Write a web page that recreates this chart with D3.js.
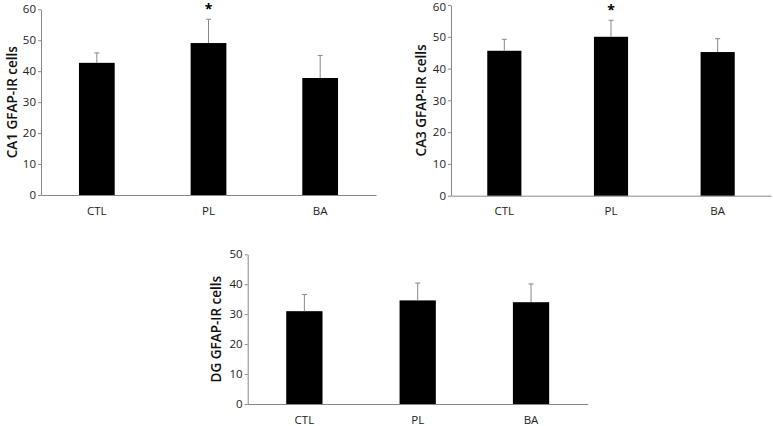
<!DOCTYPE html>
<html><head><meta charset="utf-8">
<script src="https://cdn.jsdelivr.net/npm/d3@7"></script>
<style>body{margin:0;background:#fff;} text{font-family:"Open Sans",sans-serif;}</style>
</head><body><svg id="c" width="773" height="426"></svg>
<script>
const categories = ["CTL","PL","BA"];
const ca1Values = [42.7, 49.1, 37.8];
const ca1Errors = [3.2, 7.7, 7.3];
const ca3Values = [45.6, 50.0, 45.2];
const ca3Errors = [3.6, 5.2, 4.2];
const dgValues = [31.0, 34.6, 34.0];
const dgErrors = [5.6, 5.8, 6.1];
const ca1Ticks = [0,10,20,30,40,50,60];
const ca3Ticks = [0,10,20,30,40,50,60];
const dgTicks = [0,10,20,30,40,50];
const ca1Sig = [false,true,false];
const ca3Sig = [false,true,false];
const dgSig = [false,false,false];

const svg = d3.select("#c");

function panel(opt){
  const g = svg.append("g");
  const x = d3.scaleBand().domain(categories).range([opt.x0,opt.x1]).paddingInner(0.68).paddingOuter(0.34);
  const y = d3.scaleLinear().domain([0,d3.max(opt.ticks)]).range([opt.yb,opt.yt]);
  const ya = g.append("g").attr("transform",`translate(${opt.x0},0)`)
    .call(d3.axisLeft(y).tickValues(opt.ticks).tickSize(3).tickSizeOuter(0));
  ya.select(".domain").attr("stroke","#888");
  ya.selectAll(".tick line").attr("stroke","#888");
  ya.selectAll(".tick text").attr("font-size",11.5).attr("fill","#222").attr("x",-5)
    .attr("dy",d=>(y(d)<8?"0.45em":"0.32em"));
  const xa = g.append("g").attr("transform",`translate(0,${opt.yb})`)
    .call(d3.axisBottom(x).tickSize(0).tickSizeOuter(0));
  xa.select(".domain").attr("stroke","#888");
  xa.selectAll(".tick text").attr("font-size",11.5).attr("fill","#222").attr("dy","1.45em");
  const data = categories.map((c,i)=>({c,v:opt.values[i],e:opt.errors[i],s:opt.sig[i]}));
  g.selectAll("rect.bar").data(data).join("rect").attr("class","bar")
    .attr("x",d=>x(d.c)).attr("width",x.bandwidth())
    .attr("y",d=>y(d.v)).attr("height",d=>y(0)-y(d.v)).attr("fill","#000");
  g.selectAll("line.err").data(data).join("line").attr("class","err")
    .attr("x1",d=>x(d.c)+x.bandwidth()/2).attr("x2",d=>x(d.c)+x.bandwidth()/2)
    .attr("y1",d=>y(d.v)).attr("y2",d=>y(d.v+d.e)).attr("stroke","#888").attr("stroke-width",1);
  g.selectAll("line.cap").data(data).join("line").attr("class","cap")
    .attr("x1",d=>x(d.c)+x.bandwidth()/2-2.5).attr("x2",d=>x(d.c)+x.bandwidth()/2+2.5)
    .attr("y1",d=>y(d.v+d.e)).attr("y2",d=>y(d.v+d.e)).attr("stroke","#888").attr("stroke-width",1);
  g.selectAll("text.sig").data(data.filter(d=>d.s)).join("text").attr("class","sig")
    .attr("x",d=>x(d.c)+x.bandwidth()/2).attr("y",d=>y(d.v+d.e)-5)
    .attr("text-anchor","middle").attr("font-size",14).attr("font-weight",700).text("*");
  g.append("text").attr("transform",`translate(${opt.tx},${(opt.yt+opt.yb)/2}) rotate(-90)`)
    .attr("text-anchor","middle").attr("font-size",13.5).attr("font-weight",600).attr("fill","#111")
    .text(opt.title);
}

panel({x0:41,x1:376,yt:9.3,yb:195,ticks:ca1Ticks,values:ca1Values,errors:ca1Errors,sig:ca1Sig,title:"CA1 GFAP-IR cells",tx:17});
panel({x0:451,x1:771,yt:5,yb:195.7,ticks:ca3Ticks,values:ca3Values,errors:ca3Errors,sig:ca3Sig,title:"CA3 GFAP-IR cells",tx:426});
panel({x0:247.7,x1:587.7,yt:254.3,yb:404,ticks:dgTicks,values:dgValues,errors:dgErrors,sig:dgSig,title:"DG GFAP-IR cells",tx:221});
</script></body></html>
